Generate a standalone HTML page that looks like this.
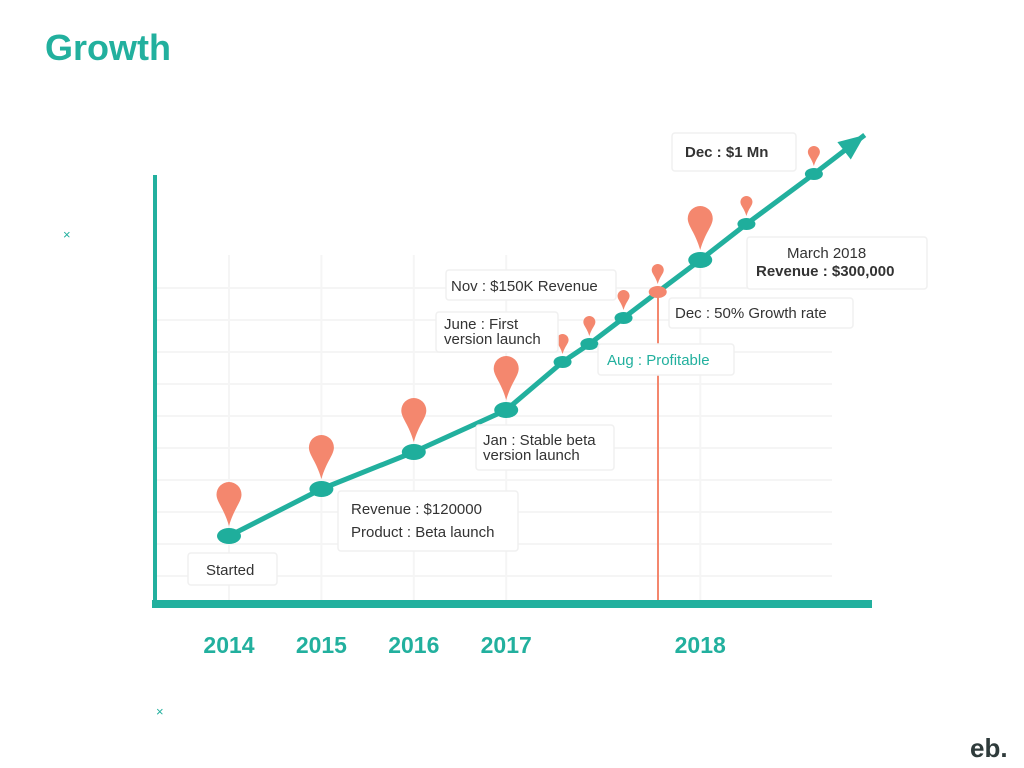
<!DOCTYPE html>
<html><head><meta charset="utf-8">
<style>
body{margin:0;width:1024px;height:768px;background:#fff;overflow:hidden;font-family:"Liberation Sans",sans-serif;}
svg{position:absolute;left:0;top:0}
</style></head>
<body>
<svg width="1024" height="768">
<text x="45" y="60" font-size="36" font-weight="bold" fill="#22b09e">Growth</text>
<g id="grid"></g>
<line x1="658" y1="292" x2="658" y2="602" stroke="#f4876e" stroke-width="2"/>
<line x1="155" y1="175" x2="155" y2="608" stroke="#22b09e" stroke-width="4"/>
<line x1="152" y1="604" x2="872" y2="604" stroke="#22b09e" stroke-width="8"/>
<g id="years"></g>
<g id="line"></g>
<g id="marks"></g>
<g id="labels"></g>
<text x="156" y="716" font-size="13" fill="#22b09e">×</text>
<text x="63" y="239" font-size="13" fill="#22b09e">×</text>
<text x="970" y="757" font-size="26" font-weight="bold" fill="#2f3b3b">eb.</text>
</svg>
<script>
const yearLabels=["2014","2015","2016","2017","2018"];
const yearIdx=[0,1,2,3,5.1];
const pointIdx=[0,1,2,3,3.61,3.9,4.27,4.64,5.1,5.6,6.33];
const pointVal=[68,115,152,194,242,260,286,312,344,380,430];
const pointBig=[1,1,1,1,0,0,0,0,1,0,0];
const arrowIdx=6.88, arrowVal=469;
const NS="http://www.w3.org/2000/svg";
const xs=i=>229+92.4*i, ys=v=>604-v;
function el(t,a,p){const e=document.createElementNS(NS,t);for(const k in a)e.setAttribute(k,a[k]);p.appendChild(e);return e;}
const grid=document.getElementById('grid');
for(let y=288;y<=580;y+=32){const l=el('line',{x1:157,x2:832,y1:y,y2:y,stroke:'#f5f5f5','stroke-width':2},grid);

}
yearIdx.forEach(i=>{const l=el('line',{x1:xs(i),x2:xs(i),y1:255,y2:600,stroke:'#f5f5f5','stroke-width':2},grid);

});
const yrs=document.getElementById('years');
yearLabels.forEach((t,k)=>{const e=el('text',{x:xs(yearIdx[k]),y:653,'text-anchor':'middle','font-size':23,'font-weight':'bold',fill:'#22b09e'},yrs);e.textContent=t;

});
const lg=document.getElementById('line');
let pts=pointIdx.map((i,k)=>xs(i)+','+ys(pointVal[k]));pts.push(xs(arrowIdx)+','+ys(arrowVal));
const pl=el('polyline',{points:pts.join(' '),fill:'none',stroke:'#22b09e','stroke-width':5,'stroke-linejoin':'round'},lg);


const ax=xs(arrowIdx),ay=ys(arrowVal),px=xs(pointIdx[10]),py=ys(pointVal[10]);
const ang=Math.atan2(ay-py,ax-px);
const L=26,W=11;const bx=ax-L*Math.cos(ang),by=ay-L*Math.sin(ang);
const ah=el('polygon',{points:`${ax},${ay} ${bx+W*Math.sin(ang)},${by-W*Math.cos(ang)} ${bx-W*Math.sin(ang)},${by+W*Math.cos(ang)}`,fill:'#22b09e'},lg);


const mk=document.getElementById('marks');
pointIdx.forEach((i,k)=>{const x=xs(i),y=ys(pointVal[k]),b=pointBig[k];
const rx=b?12:9,ry=b?8:6;
const c=el('ellipse',{cx:x,cy:y,rx:rx,ry:ry,fill:k==7?'#f4876e':'#1fae9c'},mk);


const h=b?44:20,r=b?12.5:6,top=y-ry-2-h;
const p=el('path',{d:`M${x},${y-ry-2} C${x-r*0.4},${top+h*0.6} ${x-r},${top+r*1.6} ${x-r},${top+r} A${r},${r} 0 0 1 ${x+r},${top+r} C${x+r},${top+r*1.6} ${x+r*0.4},${top+h*0.6} ${x},${y-ry-2}Z`,fill:'#f4876e'},mk);

});
const lb=document.getElementById('labels');
const boxes=[
 [188,553,89,32,[["Started",206,575,0]],'#333'],
 [338,491,180,60,[["Revenue : $120000",351,514,0],["Product : Beta launch",351,537,0]],'#333'],
 [476,425,138,45,[["Jan : Stable beta",483,445,0],["version launch",483,460,0]],'#333'],
 [436,312,122,40,[["June : First",444,329,0],["version launch",444,344,0]],'#333'],
 [446,270,170,30,[["Nov : $150K Revenue",451,291,0]],'#333'],
 [598,344,136,31,[["Aug : Profitable",607,365,0]],'#22b09e'],
 [669,298,184,30,[["Dec : 50% Growth rate",675,318,0]],'#333'],
 [672,133,124,38,[["Dec : $1 Mn",685,157,1]],'#333'],
 [747,237,180,52,[["March 2018",787,258,0],["Revenue : $300,000",756,276,1]],'#333']];
boxes.forEach(b=>{const r=el('rect',{x:b[0],y:b[1],width:b[2],height:b[3],rx:3,fill:'#fff',stroke:'#f0f0f0','stroke-width':1.5},lb);


b[4].forEach(t=>{const e=el('text',{x:t[1],y:t[2],'font-size':15,fill:b[5],'font-weight':t[3]?'bold':'normal'},lb);e.textContent=t[0];

});});
</script>
</body></html>
